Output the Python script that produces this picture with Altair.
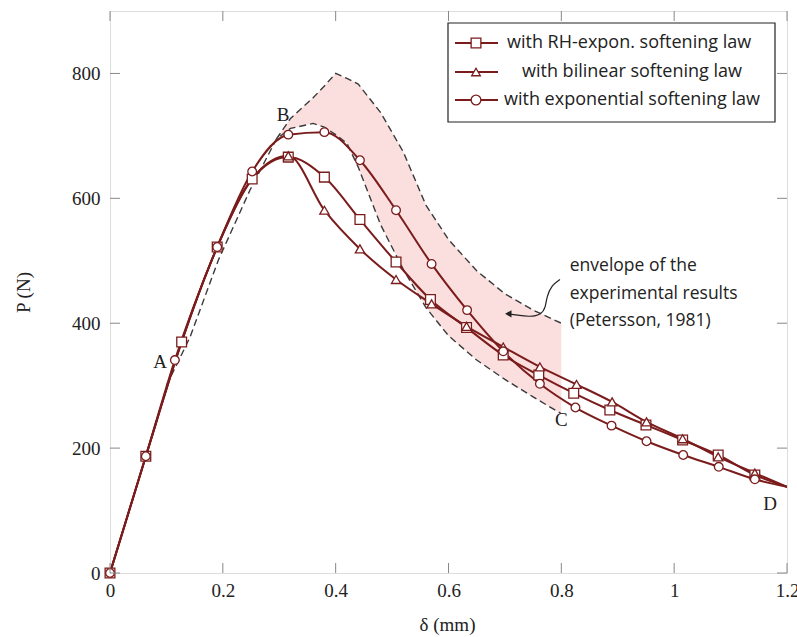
import altair as alt
import pandas as pd

# ---------------- data ----------------
sq_x = [0, 0.0635, 0.127, 0.190, 0.252, 0.316, 0.380, 0.443, 0.507, 0.568, 0.632, 0.697, 0.760, 0.822, 0.886, 0.950, 1.015, 1.078, 1.143, 1.2]
sq_y = [0, 187, 370, 522, 631, 666, 634, 566, 498, 438, 393, 349, 317, 288, 261, 237, 213, 189, 157, 138]
sq_mark = [True] * 19 + [False]

tri_x = [0, 0.0635, 0.127, 0.190, 0.252, 0.316, 0.380, 0.443, 0.507, 0.570, 0.632, 0.697, 0.762, 0.827, 0.890, 0.951, 1.015, 1.078, 1.143, 1.2]
tri_y = [0, 187, 370, 522, 631, 668, 581, 519, 470, 431, 395, 362, 330, 302, 274, 242, 215, 186, 160, 138]
tri_mark = [False] * 5 + [True] * 14 + [False]

cir_x = [0, 0.0635, 0.115, 0.190, 0.252, 0.316, 0.380, 0.443, 0.507, 0.570, 0.633, 0.697, 0.762, 0.825, 0.889, 0.951, 1.016, 1.079, 1.143, 1.2]
cir_y = [0, 187, 341, 522, 643, 702, 706, 661, 581, 495, 421, 355, 303, 265, 236, 211, 189, 170, 150, 138]
cir_mark = [True] * 19 + [False]

series_names = ["with RH-expon. softening law", "with bilinear softening law", "with exponential softening law"]

# experimental envelope (Petersson, 1981)
env_x = [0.295, 0.32, 0.36, 0.38, 0.40, 0.42, 0.44, 0.48, 0.52, 0.56, 0.60, 0.65, 0.70, 0.75, 0.80]
env_up = [695, 728, 761, 780, 800, 792, 783, 737, 674, 589, 534, 484, 447, 421, 400]
env_low = [695, 712, 720, 714, 702, 688, 650, 557, 486, 425, 380, 341, 310, 282, 255]
low_start_x = [0.10, 0.142, 0.192, 0.248]
low_start_y = [300, 378, 501, 613]

# annotation arrow
arrow_x = [0.7976, 0.7829, 0.774, 0.7722, 0.765, 0.744, 0.721, 0.706]
arrow_y = [470, 461, 442, 426, 414, 410, 413, 415]

note_lines = ["envelope of the", "experimental results", "(Petersson, 1981)"]
note_y = [491, 446, 403]
note_x = 0.815

point_labels = ["A", "B", "C", "D"]
label_x = [0.0886, 0.307, 0.80, 1.17]
label_y = [338, 733, 245, 111]

x_ticks = [0, 0.2, 0.4, 0.6, 0.8, 1.0, 1.2]
y_ticks = [0, 200, 400, 600, 800]

# ---------------- styling ----------------
RED = "#7b1c1c"
W, H = 677, 562
SERIF = "Liberation Serif"
SANS = "Open Sans"

xs = alt.Scale(domain=[0, 1.2], nice=False, zero=False)
ys = alt.Scale(domain=[0, 900], nice=False, zero=False)

rows = []
for name, xx, yy, mm in [(series_names[0], sq_x, sq_y, sq_mark),
                         (series_names[1], tri_x, tri_y, tri_mark),
                         (series_names[2], cir_x, cir_y, cir_mark)]:
    for a, b, m in zip(xx, yy, mm):
        rows.append({"series": name, "x": a, "y": b, "marker": m})
df = pd.DataFrame(rows)

env_df = pd.DataFrame({"x": env_x, "up": env_up, "low": env_low})
low_df = pd.DataFrame({"x": low_start_x + env_x, "y": low_start_y + env_low})
up_df = pd.DataFrame({"x": env_x, "y": env_up})
arrow_df = pd.DataFrame({"x": arrow_x, "y": arrow_y, "o": list(range(len(arrow_x)))})
note_df = pd.DataFrame({"x": [note_x] * 3, "y": note_y, "t": note_lines})
lab_df = pd.DataFrame({"x": label_x, "y": label_y, "t": point_labels})

xaxis = alt.Axis(values=x_ticks, format="~g", title="δ (mm)", labelFont=SERIF, labelFontSize=19,
                 labelColor="#222", labelPadding=8, ticks=False, domain=False, grid=False, labelFlush=False,
                 titleFont=SERIF, titleFontSize=19, titleFontWeight="normal", titleColor="#222",
                 titleX=337, titleY=51, titleBaseline="middle", titleAlign="center")
yaxis = alt.Axis(values=y_ticks, title="P (N)", labelFont=SERIF, labelFontSize=19,
                 labelColor="#222", labelPadding=10, ticks=False, domain=False, grid=False,
                 titleFont=SERIF, titleFontSize=19, titleFontWeight="normal", titleColor="#222",
                 titleX=-87, titleY=281, titleAngle=270, titleBaseline="middle", titleAlign="center")

area = alt.Chart(env_df).mark_area(color="#fbdede", opacity=1).encode(
    x=alt.X("x:Q", scale=xs, axis=xaxis),
    y=alt.Y("up:Q", scale=ys, axis=yaxis),
    y2="low:Q",
)
dash_style = dict(color="#3a3a3a", strokeWidth=1.4, strokeDash=[7, 4])
dash_low = alt.Chart(low_df).mark_line(**dash_style).encode(
    x=alt.X("x:Q", scale=xs), y=alt.Y("y:Q", scale=ys))
dash_up = alt.Chart(up_df).mark_line(**dash_style).encode(
    x=alt.X("x:Q", scale=xs), y=alt.Y("y:Q", scale=ys))

lines = alt.Chart(df).mark_line(color=RED, strokeWidth=2, interpolate="monotone", clip=True).encode(
    x=alt.X("x:Q", scale=xs), y=alt.Y("y:Q", scale=ys), detail="series:N")

shape_scale = alt.Scale(domain=series_names, range=["square", "triangle-up", "circle"])
size_scale = alt.Scale(domain=series_names, range=[95, 75, 95])
points = alt.Chart(df).transform_filter("datum.marker").mark_point(
    filled=True, fill="white", stroke=RED, strokeWidth=1.3, opacity=1).encode(
    x=alt.X("x:Q", scale=xs), y=alt.Y("y:Q", scale=ys),
    shape=alt.Shape("series:N", scale=shape_scale, legend=None),
    size=alt.Size("series:N", scale=size_scale, legend=None),
    order=alt.Order("series:N", sort="ascending"),
)

arrow = alt.Chart(arrow_df).mark_line(color="#222", strokeWidth=1.2, interpolate="basis").encode(
    x=alt.X("x:Q", scale=xs), y=alt.Y("y:Q", scale=ys), order="o:Q")
arrow_head = alt.Chart(arrow_df.tail(1)).mark_point(shape="triangle-left", filled=True, color="#222",
                                                    size=55, opacity=1).encode(
    x=alt.X("x:Q", scale=xs), y=alt.Y("y:Q", scale=ys))

notes = alt.Chart(note_df).mark_text(font=SANS, fontSize=17.5, align="left", baseline="middle",
                                     color="#222").encode(
    x=alt.X("x:Q", scale=xs), y=alt.Y("y:Q", scale=ys), text="t:N")
labels = alt.Chart(lab_df).mark_text(font=SERIF, fontSize=19, align="center", baseline="middle",
                                     color="#222").encode(
    x=alt.X("x:Q", scale=xs), y=alt.Y("y:Q", scale=ys), text="t:N")

# mirrored inward ticks on all four sides
xt = pd.DataFrame({"v": x_ticks})
yt = pd.DataFrame({"v": y_ticks})
tick_style = dict(color="#888", strokeWidth=1)
tb = alt.Chart(xt).mark_rule(**tick_style).encode(x=alt.X("v:Q", scale=xs), y=alt.value(H), y2=alt.value(H - 10))
tt = alt.Chart(xt).mark_rule(**tick_style).encode(x=alt.X("v:Q", scale=xs), y=alt.value(0), y2=alt.value(10))
tl = alt.Chart(yt).mark_rule(**tick_style).encode(y=alt.Y("v:Q", scale=ys), x=alt.value(0), x2=alt.value(10))
tr = alt.Chart(yt).mark_rule(**tick_style).encode(y=alt.Y("v:Q", scale=ys), x=alt.value(W - 10), x2=alt.value(W))

# legend box drawn by hand
one = pd.DataFrame({"a": [0]})
leg_layers = [alt.Chart(one).mark_rect(fill="white", stroke="#222", strokeWidth=1.2).encode(
    x=alt.value(338), x2=alt.value(665), y=alt.value(12), y2=alt.value(111))]
leg_rows = [(series_names[0], "square", 95, 32, 397, "left"),
            (series_names[1], "triangle-up", 75, 61, 522, "center"),
            (series_names[2], "circle", 95, 89, 394, "left")]
for name, shp, sz, ry, tx, al in leg_rows:
    leg_layers.append(alt.Chart(one).mark_rule(color=RED, strokeWidth=2).encode(
        x=alt.value(345), x2=alt.value(388), y=alt.value(ry)))
    leg_layers.append(alt.Chart(one).mark_point(shape=shp, size=sz, filled=True, fill="white",
                                                stroke=RED, strokeWidth=1.3, opacity=1).encode(
        x=alt.value(366), y=alt.value(ry)))
    leg_layers.append(alt.Chart(one).mark_text(text=name, font=SANS, fontSize=18, align=al,
                                               baseline="middle", color="#222").encode(
        x=alt.value(tx), y=alt.value(ry)))

chart = alt.layer(area, dash_low, dash_up, lines, points, arrow, arrow_head, notes, labels,
                  tb, tt, tl, tr, *leg_layers).properties(
    width=W, height=H,
    autosize=alt.AutoSizeParams(type="none"),
    padding={"left": 110, "top": 11, "right": 10, "bottom": 64},
).configure_view(stroke="#444", strokeWidth=1.3).configure(background="white")

chart.save("out.html", embed_options={"renderer": "svg", "actions": False})
